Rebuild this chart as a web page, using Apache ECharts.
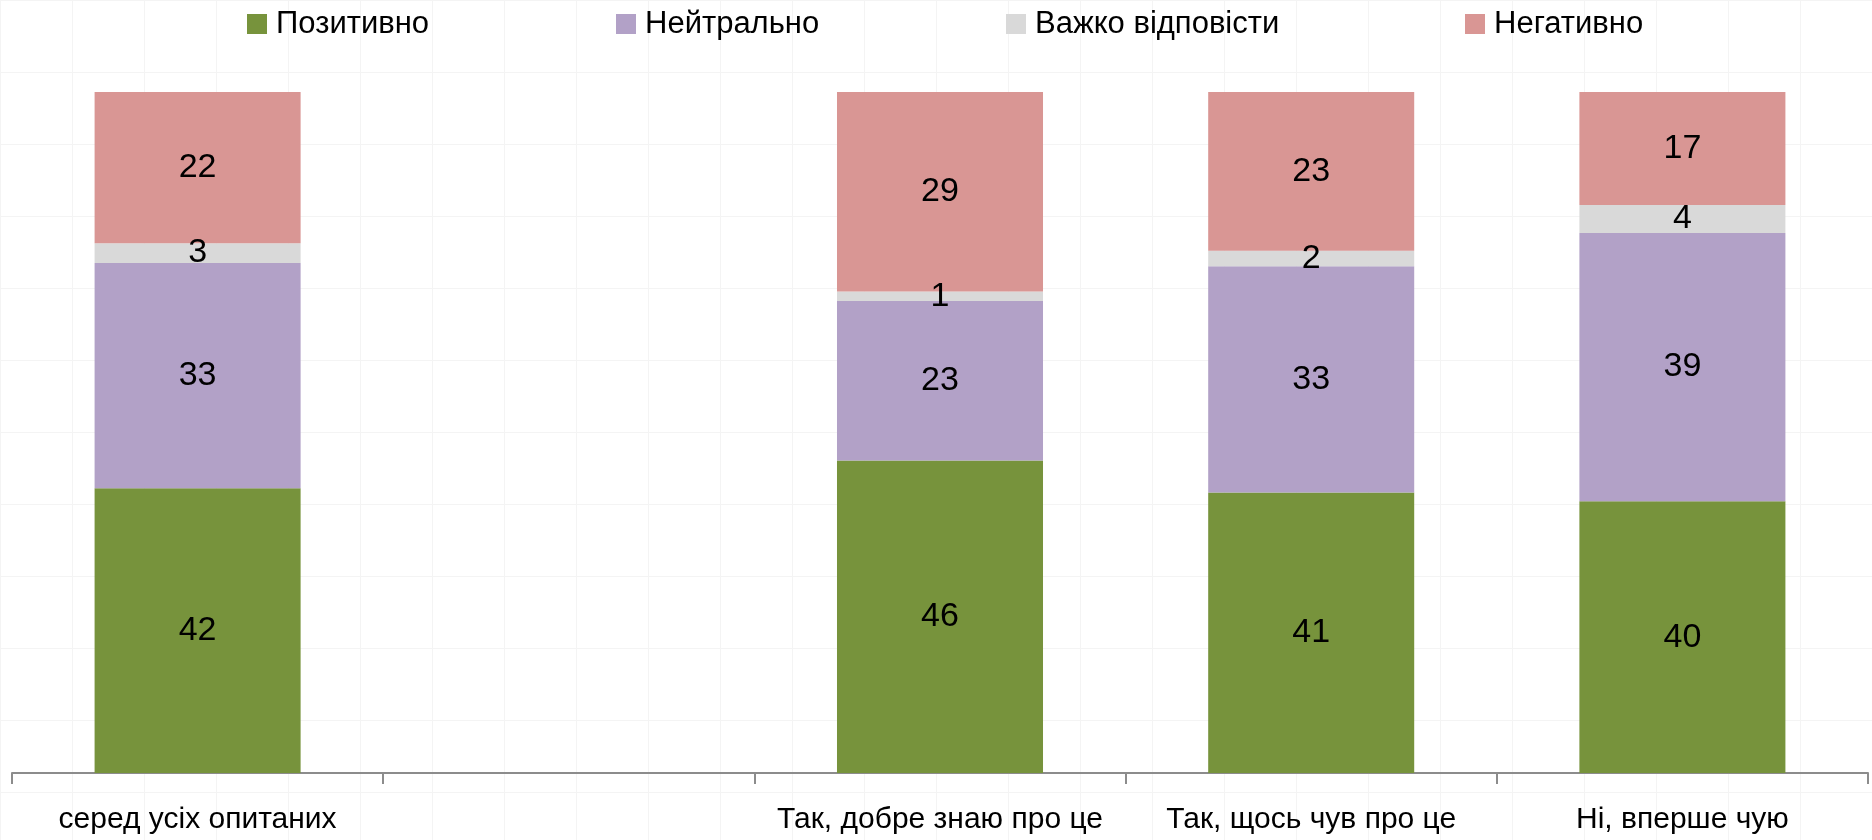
<!DOCTYPE html>
<html>
<head>
<meta charset="utf-8">
<script src="https://cdn.jsdelivr.net/npm/echarts@6/dist/echarts.min.js"></script>
<style>
html,body{margin:0;padding:0;}
body{background-color:#fff;background-image:linear-gradient(#f4f4f4 1px,transparent 1px),linear-gradient(90deg,#f4f4f4 1px,transparent 1px);background-size:72px 72px;}
#chart{width:1872px;height:840px;}
</style>
</head>
<body>
<div id="chart"></div>
<script>
const categories = ['серед усіх опитаних', '', 'Так, добре знаю про це', 'Так, щось чув про це', 'Ні, вперше чую'];
const seriesNames = ['Позитивно', 'Нейтрально', 'Важко відповісти', 'Негативно'];
const positive = [41.8, '-', 45.9, 41.2, 39.9];
const neutral  = [33.1, '-', 23.4, 33.2, 39.4];
const hard     = [2.9, '-', 1.4, 2.3, 4.1];
const negative = [22.2, '-', 29.3, 23.3, 16.6];
const colors = ['#77933C', '#B2A1C7', '#D9D9D9', '#D99694'];
const legendLeft = [247, 616, 1006, 1465];

const FONT = "'Liberation Sans', Arial, sans-serif";
const values = [positive, neutral, hard, negative];

const chart = echarts.init(document.getElementById('chart'), null, {renderer: 'canvas'});
chart.setOption({
  backgroundColor: 'transparent',
  animation: false,
  color: colors,
  legend: seriesNames.map((n, i) => ({
    data: [n],
    left: legendLeft[i],
    top: 6,
    padding: 0,
    icon: 'rect',
    itemWidth: 20,
    itemHeight: 20,
    textStyle: {fontFamily: FONT, fontSize: 31, color: '#000', lineHeight: 36, padding: [0, 0, 0, 4]}
  })),
  grid: {left: 12, right: 4, top: 92, bottom: 67, containLabel: false},
  xAxis: {
    type: 'category',
    data: categories,
    axisLine: {lineStyle: {color: '#8c8c8c', width: 2}},
    axisTick: {show: true, length: 11, lineStyle: {color: '#8c8c8c', width: 2}},
    axisLabel: {fontFamily: FONT, fontSize: 30, color: '#000', margin: 32, interval: 0}
  },
  yAxis: {type: 'value', min: 0, max: 100, show: false, splitLine: {show: false}},
  series: seriesNames.map((n, i) => ({
    name: n,
    type: 'bar',
    stack: 'total',
    barWidth: '55.5%',
    data: values[i],
    itemStyle: {color: colors[i]},
    label: {
      show: true,
      position: 'inside',
      fontFamily: FONT,
      fontSize: 34,
      color: '#000',
      formatter: p => Math.round(p.value)
    }
  }))
});
</script>
</body>
</html>
